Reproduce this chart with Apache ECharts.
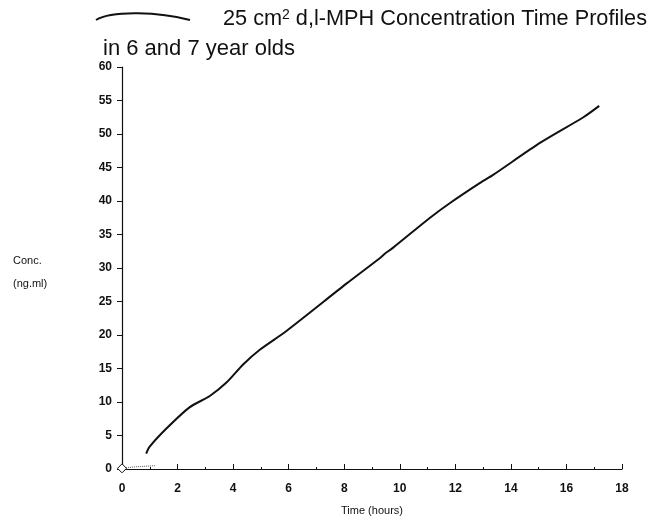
<!DOCTYPE html>
<html><head><meta charset="utf-8">
<script src="https://cdn.jsdelivr.net/npm/echarts@6/dist/echarts.min.js"></script>
<style>html,body{margin:0;padding:0;background:#fff}#c{width:649px;height:523px}</style>
</head><body><div id="c"></div>
<script>
var xTicks = [0,2,4,6,8,10,12,14,16,18];
var yTicks = [0,5,10,15,20,25,30,35,40,45,50,55,60];
var timeHours = [0.87,0.99,1.59,2.43,3.16,3.76,4.36,4.96,5.92,8.09,9.29,9.45,9.75,11.09,11.81,12.89,13.36,15.06,16.61,17.18];
var concMain  = [2.3,3.3,6.0,9.2,10.9,12.9,15.6,17.8,20.6,27.7,31.5,32.1,33.0,37.5,39.7,42.7,43.9,48.7,52.5,54.2];
var timeLow = [0,0.4,0.8,1.2];
var concLow = [0.1,0.3,0.4,0.5];

var F = 'Liberation Sans, Arial, sans-serif';
var chart = echarts.init(document.getElementById('c'));
chart.setOption({
  backgroundColor:'#fff',
  animation:false,
  title:[
    {text:'25 cm{s|2} d,l-MPH Concentration Time Profiles', left:218, top:3,
     textStyle:{fontFamily:F,fontSize:21.7,fontWeight:'normal',color:'#111',
       rich:{s:{fontFamily:F,fontSize:14,verticalAlign:'top',padding:[0,0,9,0],color:'#111'}}}},
    {text:'in 6 and 7 year olds', left:98, top:33,
     textStyle:{fontFamily:F,fontSize:22,fontWeight:'normal',color:'#111'}},
    {text:'Conc.\n(ng.ml)', left:8, top:244,
     textStyle:{fontFamily:F,fontSize:11,fontWeight:'normal',color:'#111',lineHeight:23}}
  ],
  graphic:[
    {type:'bezierCurve', shape:{x1:96,y1:20,x2:190,y2:20,cpx1:112,cpy1:10,cpx2:160,cpy2:12},
     style:{stroke:'#111',lineWidth:2,fill:null}}
  ],
  grid:{left:122,right:27,top:67,bottom:54},
  xAxis:{type:'value',min:0,max:18,interval:2,
    name:'Time (hours)',nameLocation:'middle',nameGap:36,
    nameTextStyle:{fontFamily:F,fontSize:11,color:'#111'},
    axisLine:{show:true,lineStyle:{color:'#111',width:1.2}},
    axisTick:{show:true,inside:true,length:5,lineStyle:{color:'#111'}},
    minorTick:{show:true,splitNumber:2,length:2,lineStyle:{color:'#111'}},
    axisLabel:{fontFamily:F,fontSize:12,fontWeight:'bold',color:'#111',margin:14,
      customValues:xTicks},
    splitLine:{show:false}},
  yAxis:{type:'value',min:0,max:60,interval:5,
    axisLine:{show:true,onZero:false,lineStyle:{color:'#111',width:1.2}},
    axisTick:{show:true,length:5,lineStyle:{color:'#111'}},
    axisLabel:{fontFamily:F,fontSize:12,fontWeight:'bold',color:'#111',margin:10,
      customValues:yTicks},
    splitLine:{show:false}},
  series:[
    {type:'line',data:timeHours.map(function(t,i){return [t,concMain[i]];}),
     showSymbol:false,smooth:0.25,lineStyle:{color:'#111',width:2}},
    {type:'line',data:timeLow.map(function(t,i){return {value:[t,concLow[i]],symbolSize:i===0?9:0};}),
     symbol:'diamond',showSymbol:true,
     itemStyle:{color:'#fff',borderColor:'#111',borderWidth:1},
     lineStyle:{color:'#555',width:1,type:'dotted'}}
  ]
});
</script></body></html>
